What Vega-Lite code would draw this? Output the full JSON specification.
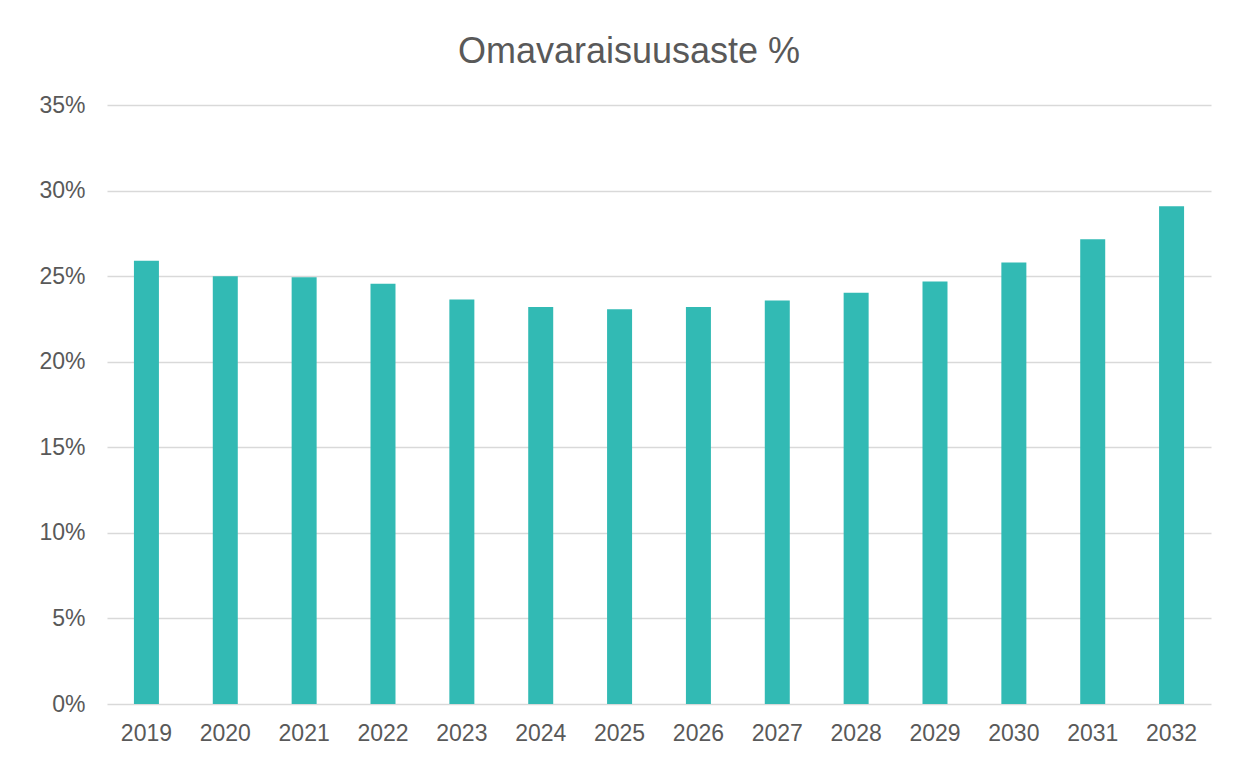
{
  "$schema": "https://vega.github.io/schema/vega-lite/v6.json",
  "autosize": {"type": "none"},
  "width": 1104,
  "height": 599,
  "padding": {"left": 107, "top": 105, "right": 23, "bottom": 55},
  "background": "white",
  "title": {
    "text": "Omavaraisuusaste %",
    "font": "Liberation Sans",
    "fontSize": 36,
    "fontWeight": "normal",
    "color": "#595959",
    "anchor": "middle",
    "frame": "group",
    "offset": 23,
    "dx": -30
  },
  "data": {
    "values": [
      {"vuosi": "2019", "arvo": 0.2590},
      {"vuosi": "2020", "arvo": 0.2500},
      {"vuosi": "2021", "arvo": 0.2494},
      {"vuosi": "2022", "arvo": 0.2455},
      {"vuosi": "2023", "arvo": 0.2364},
      {"vuosi": "2024", "arvo": 0.2319},
      {"vuosi": "2025", "arvo": 0.2306},
      {"vuosi": "2026", "arvo": 0.2319},
      {"vuosi": "2027", "arvo": 0.2358},
      {"vuosi": "2028", "arvo": 0.2403},
      {"vuosi": "2029", "arvo": 0.2469},
      {"vuosi": "2030", "arvo": 0.2580},
      {"vuosi": "2031", "arvo": 0.2715},
      {"vuosi": "2032", "arvo": 0.2909}
    ]
  },
  "mark": {"type": "bar", "color": "#32BAB4"},
  "encoding": {
    "x": {
      "field": "vuosi",
      "type": "ordinal",
      "scale": {"paddingInner": 0.683, "paddingOuter": 0.3415},
      "axis": {
        "title": null,
        "labelAngle": 0,
        "labelFont": "Liberation Sans",
        "labelFontSize": 23,
        "labelColor": "#595959",
        "labelPadding": 18,
        "ticks": false,
        "domain": false,
        "grid": false
      }
    },
    "y": {
      "field": "arvo",
      "type": "quantitative",
      "scale": {"domain": [0, 0.35], "nice": false},
      "axis": {
        "title": null,
        "values": [0, 0.05, 0.1, 0.15, 0.2, 0.25, 0.3, 0.35],
        "format": ".0%",
        "labelFont": "Liberation Sans",
        "labelFontSize": 23,
        "labelColor": "#595959",
        "labelPadding": 22,
        "ticks": false,
        "domain": false,
        "grid": true,
        "gridColor": "#d9d9d9",
        "gridWidth": 1.5
      }
    }
  },
  "config": {
    "view": {"stroke": null}
  }
}
